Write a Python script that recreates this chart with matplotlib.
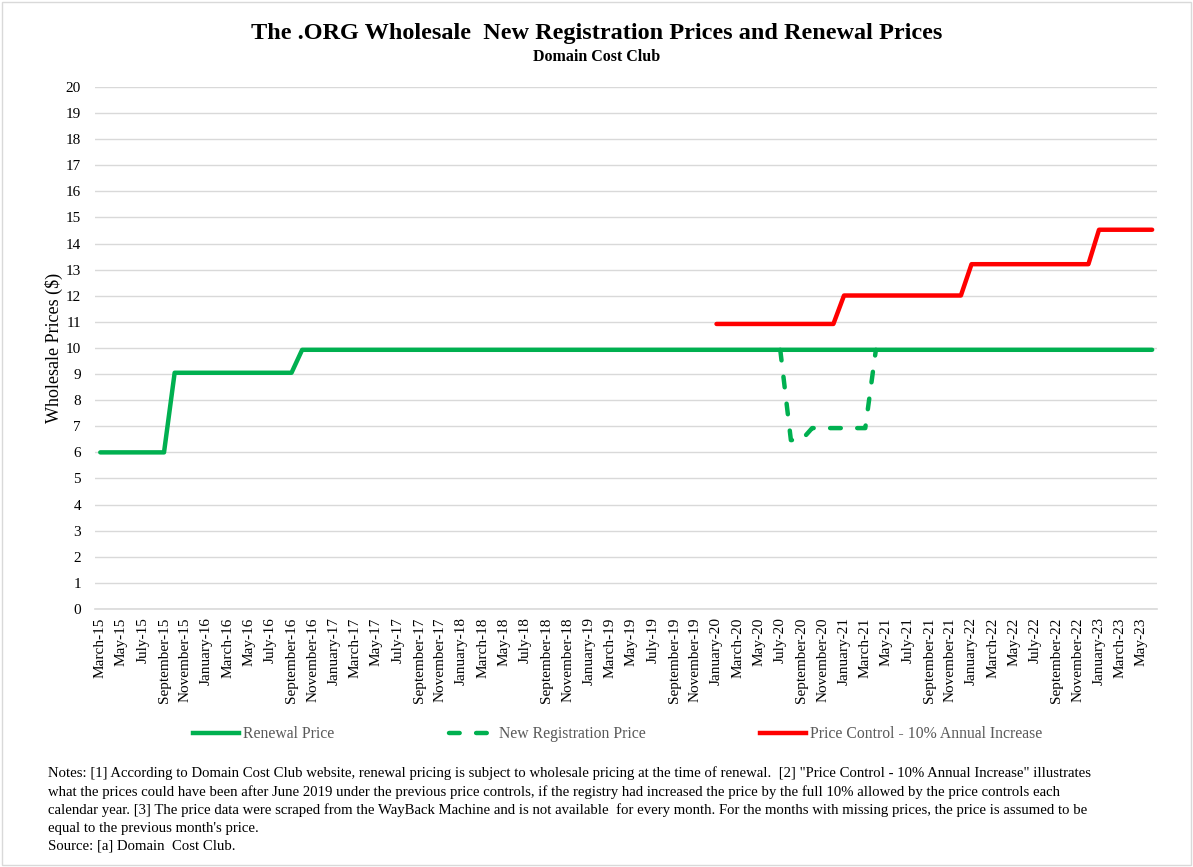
import numpy as np
import matplotlib
matplotlib.use("Agg")
import matplotlib.pyplot as plt
from matplotlib.lines import Line2D
from matplotlib.patches import Rectangle

plt.rcParams['font.family'] = ['Liberation Serif', 'DejaVu Serif']

# monthly categories, March-15 .. June-23
month_names = ['January', 'February', 'March', 'April', 'May', 'June', 'July',
               'August', 'September', 'October', 'November', 'December']
months = []
for k in range(100):
    m = (2 + k) % 12
    yr = 15 + (2 + k) // 12
    months.append(f"{month_names[m]}-{yr}")

# renewal price: 6.00 until Sep-15, 9.05 until Sep-16, 9.93 afterwards
renewal = [6.0] * 7 + [9.05] * 12 + [9.93] * 81

# new registration price (only where it differs from renewal), July-20 .. April-21
new_reg_months = ['July-20', 'August-20', 'September-20', 'October-20', 'November-20',
                  'December-20', 'January-21', 'February-21', 'March-21', 'April-21']
new_reg_vals = [9.93, 6.47, 6.47, 6.93, 6.93, 6.93, 6.93, 6.93, 6.93, 9.93]

# price control, January-20 .. June-23
pc_vals = [10.92] * 12 + [12.01] * 12 + [13.21] * 12 + [14.53] * 6

x = np.arange(len(months))
new_reg = np.full(len(months), np.nan)
for name, v in zip(new_reg_months, new_reg_vals):
    new_reg[months.index(name)] = v
pc = np.full(len(months), np.nan)
pc[months.index('January-20'):] = pc_vals

green = '#00B050'
red = '#FF0000'
dash = (0, (2.4, 3.7))

fig = plt.figure(figsize=(11.93, 8.67), dpi=100)
fig.patches.append(Rectangle((0.002, 0.002), 0.996, 0.996, transform=fig.transFigure,
                             fill=False, edgecolor='#d9d9d9', linewidth=1))
ax = fig.add_axes([0.0796, 0.2976, 0.8906, 0.6021])

ax.plot(x, new_reg, color=green, lw=3.2, ls=dash, dash_capstyle='round', zorder=2)
ax.plot(x, renewal, color=green, lw=3.2, solid_capstyle='round', zorder=3)
ax.plot(x, pc, color=red, lw=3.2, solid_capstyle='round', zorder=3)

ax.set_xlim(-0.5, len(months) - 0.5)
ax.set_ylim(0, 20)
ax.set_yticks(range(0, 21))
ax.set_xticks(x[::2])
ax.set_xticklabels(months[::2], rotation=90, fontsize=11)
ax.tick_params(axis='y', labelsize=11, length=0, pad=10)
ax.tick_params(axis='x', length=0, pad=6)
ax.grid(axis='y', color='#d9d9d9', lw=1)
ax.set_axisbelow(True)
for s in ['top', 'right', 'left']:
    ax.spines[s].set_visible(False)
ax.spines['bottom'].set_color('#d9d9d9')
ax.spines['bottom'].set_linewidth(1.2)
ax.set_ylabel('Wholesale Prices ($)', fontsize=13, labelpad=2)

fig.text(0.5, 0.961, 'The .ORG Wholesale  New Registration Prices and Renewal Prices',
         ha='center', va='center', fontsize=17.5, fontweight='bold')
fig.text(0.5, 0.934, 'Domain Cost Club', ha='center', va='center', fontsize=11.5,
         fontweight='bold')

handles = [Line2D([], [], color=green, lw=3.2),
           Line2D([], [], color=green, lw=3.2, ls=dash, dash_capstyle='round'),
           Line2D([], [], color=red, lw=3.2)]
labels = ['Renewal Price', 'New Registration Price', 'Price Control - 10% Annual Increase']
fig.legend(handles, labels, loc='center', bbox_to_anchor=(0.5176, 0.153), ncol=3,
           frameon=False, fontsize=11.3, handlelength=2.93, handletextpad=0.25,
           columnspacing=7.3, labelcolor='#595959')

notes = ('Notes: [1] According to Domain Cost Club website, renewal pricing is subject to wholesale pricing at the time of renewal.  [2] "Price Control - 10% Annual Increase" illustrates\n'
         'what the prices could have been after June 2019 under the previous price controls, if the registry had increased the price by the full 10% allowed by the price controls each\n'
         'calendar year. [3] The price data were scraped from the WayBack Machine and is not available  for every month. For the months with missing prices, the price is assumed to be\n'
         "equal to the previous month's price.\n"
         'Source: [a] Domain  Cost Club.')
fig.text(0.04, 0.1165, notes, ha='left', va='top', fontsize=10.6, linespacing=1.46)

fig.savefig('out.png', dpi=100)
